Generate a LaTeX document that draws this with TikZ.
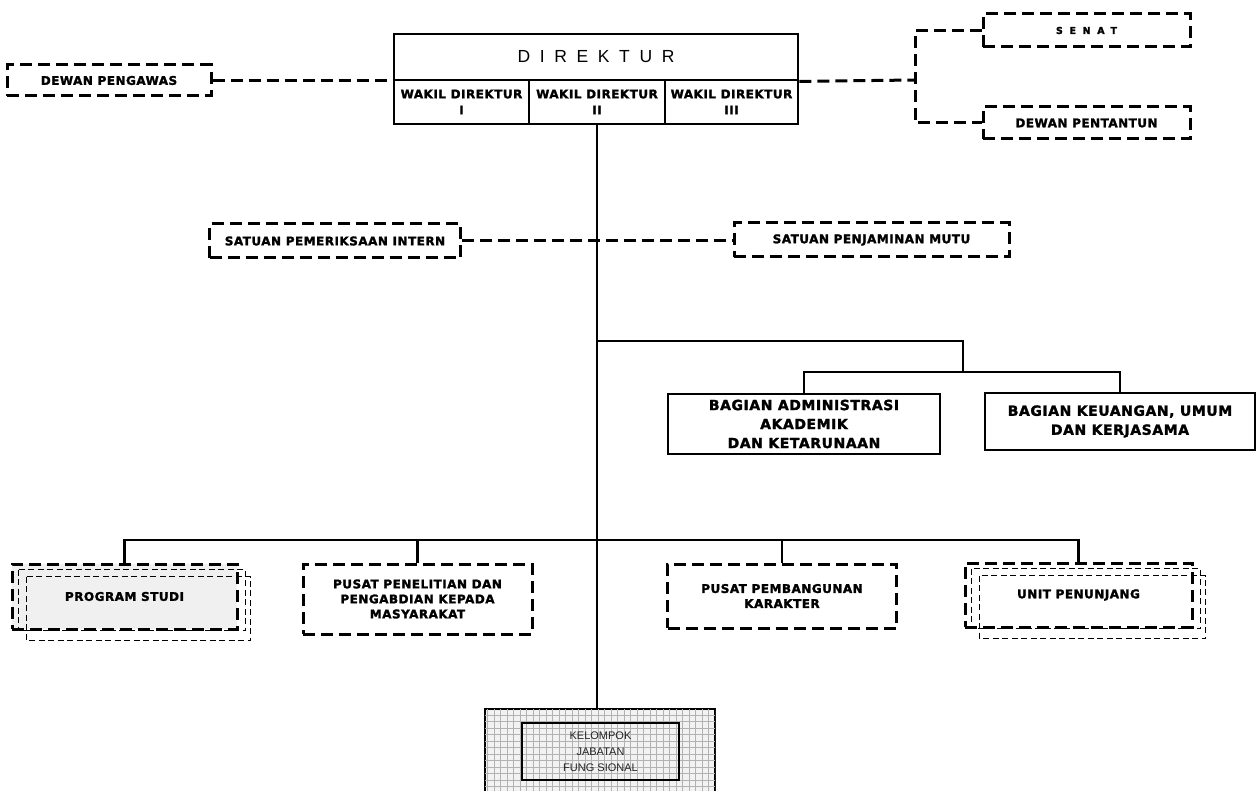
\documentclass[tikz,border=0pt]{standalone}
\usepackage{fontspec}
\setmainfont{Liberation Sans}
\newfontfamily\lblfont{DejaVu Sans}[LetterSpace=4, BoldFeatures={FakeBold=1.8}]
\newfontfamily\headfont{Liberation Sans}[LetterSpace=55]
\begin{document}
\begin{tikzpicture}[x=1pt,y=-1pt,
  dbox/.style={draw, line width=3pt, dash pattern=on 12pt off 6pt, inner sep=0pt, align=center, font=\lblfont\bfseries\fontsize{12}{15}\selectfont},
  sbox/.style={draw, line width=2.8pt, inner sep=0pt, align=center, font=\lblfont\bfseries\fontsize{12}{16}\selectfont},
  bigbox/.style={sbox, font=\lblfont\bfseries\fontsize{14}{19}\selectfont},
  shadowbox/.style={line width=1.6pt, dash pattern=on 6pt off 3.5pt},
  dline/.style={line width=3pt, dash pattern=on 12pt off 6pt},
  sline/.style={line width=2.8pt},
  gridline/.style={gray!60, line width=0.6pt}]
\fill[white] (0,0) rectangle (1258,791);
\useasboundingbox (0,0) rectangle (1258,791);

% top: direktur and wakil direktur
\node[sbox, minimum width=404pt, minimum height=46pt, font=\headfont\fontsize{17.5}{20}\selectfont] (dirhead) at (596,57) {DIREKTUR};
\node[sbox, minimum width=135pt, minimum height=44pt] (wk1) at (461.5,102) {WAKIL DIREKTUR\\I};
\node[sbox, minimum width=136pt, minimum height=44pt] (wk2) at (597,102) {WAKIL DIREKTUR\\II};
\node[sbox, minimum width=133pt, minimum height=44pt] (wk3) at (731.5,102) {WAKIL DIREKTUR\\III};

\node[dbox, minimum width=204pt, minimum height=31pt] (pengawas) at (109,80.5) {DEWAN PENGAWAS};
\node[dbox, minimum width=207pt, minimum height=33pt, font=\lblfont\bfseries\fontsize{9.5}{12}\selectfont] (senat) at (1086.5,30.5) {\addfontfeature{LetterSpace=70}SENAT};
\node[dbox, minimum width=207pt, minimum height=32pt] (pentantun) at (1086.5,123) {DEWAN PENTANTUN};
\coordinate (jr) at (915,80);

\draw[dline] (pengawas.east) -- (pengawas.east -| dirhead.west);
\draw[dline] (dirhead.south east) -- (jr);
\draw[dline] (senat.west) -| (jr) |- (pentantun.west);

% satuan
\node[dbox, minimum width=251pt, minimum height=34pt] (spi) at (335,241) {SATUAN PEMERIKSAAN INTERN};
\node[dbox, minimum width=275pt, minimum height=34pt] (spm) at (871.5,240) {SATUAN PENJAMINAN MUTU};

% bagian
\node[bigbox, minimum width=272pt, minimum height=60pt] (baak) at (804,424) {BAGIAN ADMINISTRASI\\AKADEMIK\\DAN KETARUNAAN};
\node[bigbox, minimum width=270pt, minimum height=57pt] (bkuk) at (1120,421.5) {BAGIAN KEUANGAN, UMUM\\DAN KERJASAMA};

% bottom row
\node[dbox, fill=gray!12, minimum width=225pt, minimum height=65pt] (prodi) at (124.5,596.5) {PROGRAM STUDI};
\node[dbox, minimum width=229pt, minimum height=70pt] (p3m) at (417.5,599) {PUSAT PENELITIAN DAN\\PENGABDIAN KEPADA\\MASYARAKAT};
\node[dbox, minimum width=229pt, minimum height=64pt] (ppk) at (782,596) {PUSAT PEMBANGUNAN\\KARAKTER};
\node[dbox, minimum width=227pt, minimum height=64pt] (unit) at (1078.5,595) {UNIT PENUNJANG};
\foreach \bx in {prodi,unit} {
  \draw[shadowbox] ([shift={(8,7)}]\bx.north west) rectangle ([shift={(7,0)}]\bx.south east);
  \draw[shadowbox] ([shift={(16,14)}]\bx.north west) rectangle ([shift={(12,10)}]\bx.south east);
}

% kelompok jabatan fungsional
\node[draw, line width=2.8pt, fill=gray!10, minimum width=230pt, minimum height=86pt] (kjf) at (600,752) {};
\begin{scope}
  \clip ([shift={(1.4,1.4)}]kjf.north west) rectangle ([shift={(-1.4,-1.4)}]kjf.south east);
  \draw[gridline, step=6.5pt] (kjf.north west) grid (kjf.south east);
\end{scope}
\node[draw, line width=1.6pt, minimum width=157pt, minimum height=57pt, align=center, text=black!85, font=\fontsize{11}{16}\selectfont] (kjfin) at (600.5,751.5) {KELOMPOK\\JABATAN\\FUNG SIONAL};

% connectors
\coordinate (b1) at (597,341);
\coordinate (b2) at (963,372);
\coordinate (b3) at (597,540);
\draw[sline] (wk2.south) -- (wk2.south |- kjf.north);
\draw[dline] (spi.east) -- (spi.east -| spm.west);
\draw[sline] (b1) -| (b2);
\draw[sline] (baak.north) |- (b2) -| (bkuk.north);
\draw[sline] (prodi.north) |- (b3) -| (unit.north);
\draw[sline] (p3m.north) |- (b3);
\draw[sline] (ppk.north) |- (b3);
\end{tikzpicture}
\end{document}
